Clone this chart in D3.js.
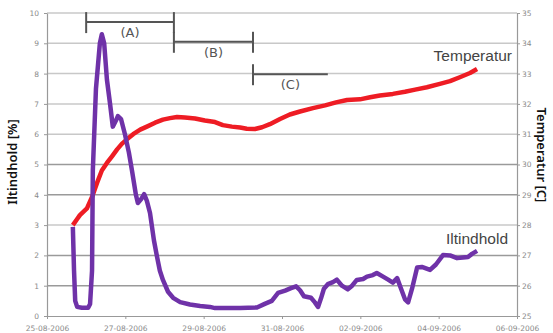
<!DOCTYPE html>
<html>
<head>
<meta charset="utf-8">
<script src="https://cdn.jsdelivr.net/npm/d3@7"></script>
<style>
body { margin: 0; background: #fff; }
svg { display: block; }
</style>
</head>
<body>
<script>
var w = 553;
var h = 333;

// data: day offsets from 25-08-2006
var startDate = new Date(2006, 7, 25);
var dateTicks = ["25-08-2006", "27-08-2006", "29-08-2006", "31-08-2006", "02-09-2006", "04-09-2006", "06-09-2006"];
var leftTicks = [0, 1, 2, 3, 4, 5, 6, 7, 8, 9, 10];
var rightTicks = [25, 26, 27, 28, 29, 30, 31, 32, 33, 34, 35];

var oxyDays = [0.66, 0.69, 0.72, 0.77, 0.89, 1.05, 1.10, 1.15, 1.17, 1.25, 1.35, 1.40, 1.46, 1.53, 1.61, 1.68, 1.76, 1.81, 1.89, 1.99,
  2.09, 2.17, 2.27, 2.32, 2.40, 2.48, 2.55, 2.63, 2.73, 2.81, 2.88, 2.96, 3.09, 3.22, 3.40, 3.65, 3.91, 4.16, 4.29, 4.93,
  5.36, 5.56, 5.74, 5.90, 6.08, 6.23, 6.36, 6.46, 6.56, 6.74, 6.84, 6.92, 7.00, 7.07, 7.17, 7.30, 7.40, 7.53, 7.68, 7.79,
  7.91, 8.07, 8.17, 8.32, 8.42, 8.58, 8.71, 8.83, 8.94, 9.04, 9.14, 9.22, 9.32, 9.45, 9.57, 9.78, 9.93, 10.11, 10.29, 10.47,
  10.62, 10.75, 10.85, 10.98];
var oxyValues = [2.94, 1.5, 0.5, 0.3, 0.27, 0.27, 0.4, 1.5, 4.8, 7.5, 9.0, 9.3, 9.0, 7.8, 7.0, 6.25, 6.45, 6.6, 6.5, 6.0,
  5.4, 4.8, 4.0, 3.73, 3.85, 4.02, 3.8, 3.4, 2.5, 1.95, 1.5, 1.19, 0.8, 0.6, 0.46, 0.38, 0.33, 0.3, 0.26, 0.26,
  0.28, 0.4, 0.5, 0.76, 0.84, 0.92, 0.98, 0.85, 0.65, 0.6, 0.45, 0.3, 0.6, 0.9, 1.05, 1.12, 1.2, 1.0, 0.88, 1.0,
  1.19, 1.22, 1.3, 1.35, 1.42, 1.3, 1.2, 1.1, 1.25, 0.9, 0.55, 0.45, 0.9, 1.6, 1.62, 1.52, 1.7, 2.01, 2.0, 1.91,
  1.93, 1.95, 2.05, 2.15];

var tempDays = [0.66, 0.77, 0.84, 0.94, 1.02, 1.15, 1.28, 1.40, 1.53, 1.66, 1.79, 1.91, 2.04, 2.20, 2.38, 2.55, 2.76, 2.96, 3.14, 3.32,
  3.52, 3.78, 4.03, 4.29, 4.49, 4.72, 4.93, 5.10, 5.31, 5.49, 5.69, 5.95, 6.20, 6.46, 6.79, 7.10, 7.38, 7.66, 7.99, 8.25,
  8.50, 8.83, 9.14, 9.40, 9.70, 10.03, 10.29, 10.54, 10.80, 10.98];
var tempValues = [28.0, 28.2, 28.33, 28.45, 28.55, 28.93, 29.4, 29.8, 30.05, 30.27, 30.5, 30.68, 30.83, 31.0, 31.15, 31.25, 31.38, 31.48, 31.53, 31.57,
  31.55, 31.52, 31.45, 31.4, 31.3, 31.25, 31.22, 31.18, 31.17, 31.23, 31.33, 31.5, 31.65, 31.75, 31.86, 31.95, 32.05, 32.13, 32.15, 32.22,
  32.28, 32.33, 32.4, 32.47, 32.55, 32.66, 32.75, 32.88, 33.02, 33.15];

// phase brackets (A), (B), (C): start/end day, level on left axis
var phaseLabels = ["(A)", "(B)", "(C)"];
var phaseStart = [1.0, 3.24, 5.26];
var phaseEnd = [3.24, 5.26, 7.17];
var phaseLevel = [9.7, 9.05, 7.98];

function dayToDate(d) {
  return new Date(startDate.getTime() + d * 86400000);
}

var margin = { top: 13, right: 36, bottom: 17, left: 47 };

var svg = d3.select("body")
  .append("svg")
  .attr("width", w)
  .attr("height", h);

var x = d3.scaleTime()
  .domain([startDate, dayToDate(12)])
  .range([margin.left, w - margin.right]);

var yL = d3.scaleLinear().domain([0, 10]).range([h - margin.bottom, margin.top]);
var yR = d3.scaleLinear().domain([25, 35]).range([h - margin.bottom, margin.top]);

// gridlines
svg.append("g")
  .selectAll("line")
  .data(leftTicks.slice(1))
  .enter()
  .append("line")
  .attr("x1", margin.left)
  .attr("x2", w - margin.right)
  .attr("y1", function(d) { return yL(d); })
  .attr("y2", function(d) { return yL(d); })
  .attr("stroke", function(d) { return (d == 1 || d == 2 || d == 4 || d == 5) ? "#9a9a9a" : "#c8c8c8"; })
  .attr("stroke-width", 1.5);

// axes
var tickDates = dateTicks.map(function(s) {
  var p = s.split("-");
  return new Date(+p[2], +p[1] - 1, +p[0]);
});

var xAxis = svg.append("g")
  .attr("transform", "translate(0," + (h - margin.bottom) + ")")
  .call(d3.axisBottom(x).tickValues(tickDates).tickFormat(function(d, i) { return dateTicks[i]; }).tickSize(3).tickSizeOuter(0));

var lAxis = svg.append("g")
  .attr("transform", "translate(" + margin.left + ",0)")
  .call(d3.axisLeft(yL).tickValues(leftTicks).tickSize(3).tickSizeOuter(0));

var rAxis = svg.append("g")
  .attr("transform", "translate(" + (w - margin.right) + ",0)")
  .call(d3.axisRight(yR).tickValues(rightTicks).tickSize(3).tickSizeOuter(0));

[xAxis, lAxis, rAxis].forEach(function(a) {
  a.selectAll(".domain").attr("stroke", "#999").attr("stroke-width", 1.2);
  a.selectAll(".tick line").attr("stroke", "#999");
  a.selectAll("text")
    .attr("fill", "#8a8a8a")
    .attr("font-family", "DejaVu Sans, sans-serif")
    .attr("font-size", "7.5px");
});
xAxis.selectAll("text").attr("dy", "1.25em");
lAxis.selectAll("text").attr("x", -8);
rAxis.selectAll("text").attr("x", 5);

// lines
var tempLine = d3.line()
  .x(function(d) { return x(dayToDate(d[0])); })
  .y(function(d) { return yR(d[1]); });

var oxyLine = d3.line()
  .x(function(d) { return x(dayToDate(d[0])); })
  .y(function(d) { return yL(d[1]); });

svg.append("path")
  .datum(d3.zip(tempDays, tempValues))
  .attr("d", tempLine)
  .attr("fill", "none")
  .attr("stroke", "#ee1c24")
  .attr("stroke-width", 4.5)
  .attr("stroke-linejoin", "round");

svg.append("path")
  .datum(d3.zip(oxyDays, oxyValues))
  .attr("d", oxyLine)
  .attr("fill", "none")
  .attr("stroke", "#6f32a8")
  .attr("stroke-width", 4.5)
  .attr("stroke-linejoin", "round");

// brackets
var br = svg.append("g")
  .selectAll("g")
  .data(phaseLabels)
  .enter()
  .append("g");

br.append("line")
  .attr("x1", function(d, i) { return x(dayToDate(phaseStart[i])); })
  .attr("x2", function(d, i) { return x(dayToDate(phaseEnd[i])); })
  .attr("y1", function(d, i) { return yL(phaseLevel[i]); })
  .attr("y2", function(d, i) { return yL(phaseLevel[i]); })
  .attr("stroke", "#555")
  .attr("stroke-width", 2);

br.append("line")
  .attr("x1", function(d, i) { return x(dayToDate(phaseStart[i])); })
  .attr("x2", function(d, i) { return x(dayToDate(phaseStart[i])); })
  .attr("y1", function(d, i) { return yL(phaseLevel[i]) - 10; })
  .attr("y2", function(d, i) { return yL(phaseLevel[i]) + 11; })
  .attr("stroke", "#555")
  .attr("stroke-width", 2);

br.filter(function(d, i) { return i < 2; })
  .append("line")
  .attr("x1", function(d, i) { return x(dayToDate(phaseEnd[i])); })
  .attr("x2", function(d, i) { return x(dayToDate(phaseEnd[i])); })
  .attr("y1", function(d, i) { return yL(phaseLevel[i]) - 10; })
  .attr("y2", function(d, i) { return yL(phaseLevel[i]) + 11; })
  .attr("stroke", "#555")
  .attr("stroke-width", 2);

br.append("text")
  .text(function(d) { return d; })
  .attr("x", function(d, i) { return (x(dayToDate(phaseStart[i])) + x(dayToDate(phaseEnd[i]))) / 2; })
  .attr("y", function(d, i) { return yL(phaseLevel[i]) + 15; })
  .attr("text-anchor", "middle")
  .attr("font-family", "DejaVu Sans, sans-serif")
  .attr("font-size", "13px")
  .attr("fill", "#555");

// series labels
svg.append("text")
  .text("Temperatur")
  .attr("x", 512)
  .attr("y", 61)
  .attr("text-anchor", "end")
  .attr("font-family", "Liberation Sans, Arial, sans-serif")
  .attr("font-size", "15.5px")
  .attr("fill", "#444");

svg.append("text")
  .text("Iltindhold")
  .attr("x", 508)
  .attr("y", 244)
  .attr("text-anchor", "end")
  .attr("font-family", "Liberation Sans, Arial, sans-serif")
  .attr("font-size", "15.5px")
  .attr("fill", "#444");

// axis titles
svg.append("text")
  .text("Iltindhold [%]")
  .attr("transform", "translate(17,162) rotate(-90)")
  .attr("text-anchor", "middle")
  .attr("font-family", "Noto Sans, sans-serif")
  .attr("font-size", "13px")
  .attr("font-weight", "600")
  .attr("fill", "#111");

svg.append("text")
  .text("Temperatur [C]")
  .attr("transform", "translate(537,155) rotate(90)")
  .attr("text-anchor", "middle")
  .attr("font-family", "Noto Sans, sans-serif")
  .attr("font-size", "13px")
  .attr("font-weight", "600")
  .attr("fill", "#111");
</script>
</body>
</html>
